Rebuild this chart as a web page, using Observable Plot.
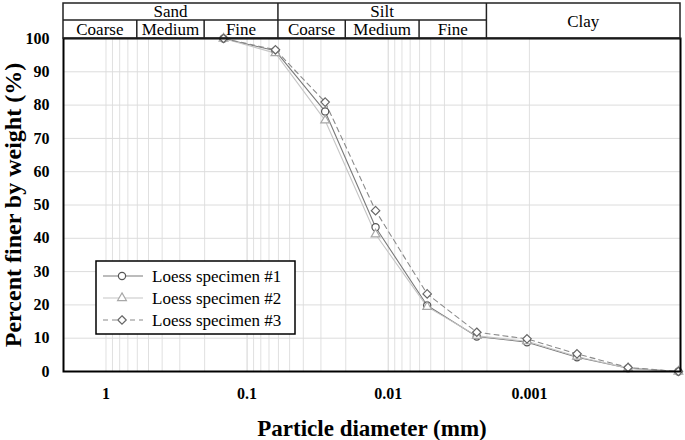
<!DOCTYPE html>
<html><head><meta charset="utf-8">
<script src="https://cdn.jsdelivr.net/npm/d3@7"></script>
<script src="https://cdn.jsdelivr.net/npm/@observablehq/plot@0.6"></script>
<style>body{margin:0;background:#fff} svg{display:block}</style>
</head><body><div id="chart"></div>
<script>
// ---- data ----
const diameters = [0.147, 0.063, 0.028, 0.0123, 0.0053, 0.00236, 0.00104, 0.00046, 0.0002, 0.000088];
const specimen1 = [100, 96.3, 78.1, 43.3, 19.8, 10.5, 8.8, 4.3, 1.0, 0];
const specimen2 = [100, 95.6, 75.4, 41.2, 19.4, 10.7, 9.1, 4.5, 1.0, 0];
const specimen3 = [100, 96.6, 80.9, 48.3, 23.3, 11.8, 9.8, 5.3, 1.2, 0];
const seriesNames = ["Loess specimen #1", "Loess specimen #2", "Loess specimen #3"];
const xTicks = [1, 0.1, 0.01, 0.001];
const yTicks = [0, 10, 20, 30, 40, 50, 60, 70, 80, 90, 100];
const xDomain = [2, 0.000085];
const mainClasses = ["Sand", "Silt", "Clay"];
const mainBounds = [[2, 0.06], [0.06, 0.002], [0.002, 0.000085]];
const subClasses = ["Coarse", "Medium", "Fine", "Coarse", "Medium", "Fine"];
const subBounds = [[2, 0.6], [0.6, 0.2], [0.2, 0.06], [0.06, 0.02], [0.02, 0.006], [0.006, 0.002]];

(function () {
// ---- build ----
const allSeries = [specimen1, specimen2, specimen3];
const rows = [];
allSeries.forEach((vals, s) => diameters.forEach((d, i) => rows.push({s, d, p: vals[i]})));
const grid = [];
for (const e of [1, 2, 3]) for (let k = 1; k <= 10; k++) grid.push(+(k * Math.pow(10, -e)).toPrecision(3));

const styles = [
  {line: "#7a7a7a", mark: "#555", dash: null, symbol: "circle", r: 3.6},
  {line: "#c6c6c6", mark: "#a8a8a8", dash: null, symbol: "triangle2", r: 4.2},
  {line: "#8a8a8a", mark: "#666", dash: "5,4", symbol: "diamond2", r: 3.8}
];
const serif = "'Liberation Serif', 'Times New Roman', serif";

const marks = [
  Plot.ruleX(grid, {stroke: "#e0e0e0", strokeWidth: 1}),
  Plot.ruleY(yTicks.slice(1), {stroke: "#dcdcdc", strokeWidth: 1}),
  Plot.axisX(xTicks, {tickSize: 0, tickPadding: 16, tickFormat: d => String(d), fontSize: 16, fontWeight: "bold", label: null}),
  Plot.axisY(yTicks, {tickSize: 0, tickPadding: 14, fontSize: 16, fontWeight: "bold", label: null})
];
styles.forEach((st, s) => {
  const data = rows.filter(r => r.s === s);
  marks.push(Plot.line(data, {x: "d", y: "p", stroke: st.line, strokeWidth: 1.1, strokeDasharray: st.dash}));
});
styles.forEach((st, s) => {
  const data = rows.filter(r => r.s === s);
  marks.push(Plot.dot(data, {x: "d", y: "p", symbol: () => st.symbol, r: st.r, stroke: st.mark, fill: "white", strokeWidth: 1.2}));
});
marks.push(
  Plot.frame({stroke: "#000", strokeWidth: 2}),
  Plot.text(["Particle diameter (mm)"], {frameAnchor: "bottom", lineAnchor: "middle", textAnchor: "middle", dy: 57, fontSize: 23, fontWeight: "bold"}),
  Plot.text(["Percent finer by weight (%)"], {frameAnchor: "left", lineAnchor: "middle", textAnchor: "middle", dx: -50, rotate: -90, fontSize: 24, fontWeight: "bold"})
);

const chart = Plot.plot({
  width: 685, height: 440,
  marginLeft: 63, marginRight: 5, marginTop: 38, marginBottom: 69,
  style: {fontFamily: serif, background: "#fff", color: "#000"},
  x: {type: "log", domain: xDomain},
  y: {domain: [0, 100]},
  symbol: {type: "identity"},
  marks
});
document.getElementById("chart").append(chart);

// ---- header table (soil classes) ----
const xs = chart.scale("x");
const X = v => xs.apply(v);
const svg = d3.select(chart);
const hdr = svg.append("g").attr("stroke", "#222").attr("stroke-width", 1.5).attr("fill", "none");
const yTop = 3, yMid = 20, yBot = 38;
hdr.append("rect").attr("x", X(xDomain[0])).attr("y", yTop).attr("width", X(xDomain[1]) - X(xDomain[0])).attr("height", yBot - yTop);
hdr.append("line").attr("x1", X(xDomain[0])).attr("x2", X(0.002)).attr("y1", yMid).attr("y2", yMid);
[0.06, 0.002].forEach(v => hdr.append("line").attr("x1", X(v)).attr("x2", X(v)).attr("y1", yTop).attr("y2", yBot));
[0.6, 0.2, 0.02, 0.006].forEach(v => hdr.append("line").attr("x1", X(v)).attr("x2", X(v)).attr("y1", yMid).attr("y2", yBot));
const ht = svg.append("g").style("font-family", serif).style("font-size", "17px").attr("text-anchor", "middle").attr("fill", "#000");
mainClasses.forEach((name, i) => {
  const [a, b] = mainBounds[i];
  ht.append("text").attr("x", (X(a) + X(b)) / 2).attr("y", name === "Clay" ? 26.5 : 17.3).text(name);
});
subClasses.forEach((name, i) => {
  const [a, b] = subBounds[i];
  ht.append("text").attr("x", (X(a) + X(b)) / 2).attr("y", 35).text(name);
});

// ---- legend ----
const lg = svg.append("g");
lg.append("rect").attr("x", 96).attr("y", 261).attr("width", 199).attr("height", 73)
  .attr("fill", "white").attr("stroke", "#000").attr("stroke-width", 1.5);
const symMap = {circle: d3.symbolCircle, triangle2: d3.symbolTriangle2, diamond2: d3.symbolDiamond2};
styles.forEach((st, s) => {
  const cy = 276 + s * 22;
  lg.append("line").attr("x1", 103).attr("x2", 143).attr("y1", cy).attr("y2", cy)
    .attr("stroke", st.line).attr("stroke-width", 1.1).attr("stroke-dasharray", st.dash);
  lg.append("path").attr("transform", `translate(122,${cy})`)
    .attr("d", d3.symbol(symMap[st.symbol], Math.PI * st.r * st.r)())
    .attr("fill", "white").attr("stroke", st.mark).attr("stroke-width", 1.2);
  lg.append("text").attr("x", 152).attr("y", cy + 6).attr("text-anchor", "start")
    .style("font-family", serif).style("font-size", "17px")
    .attr("fill", "#000").text(seriesNames[s]);
});
})();
</script>
</body></html>
